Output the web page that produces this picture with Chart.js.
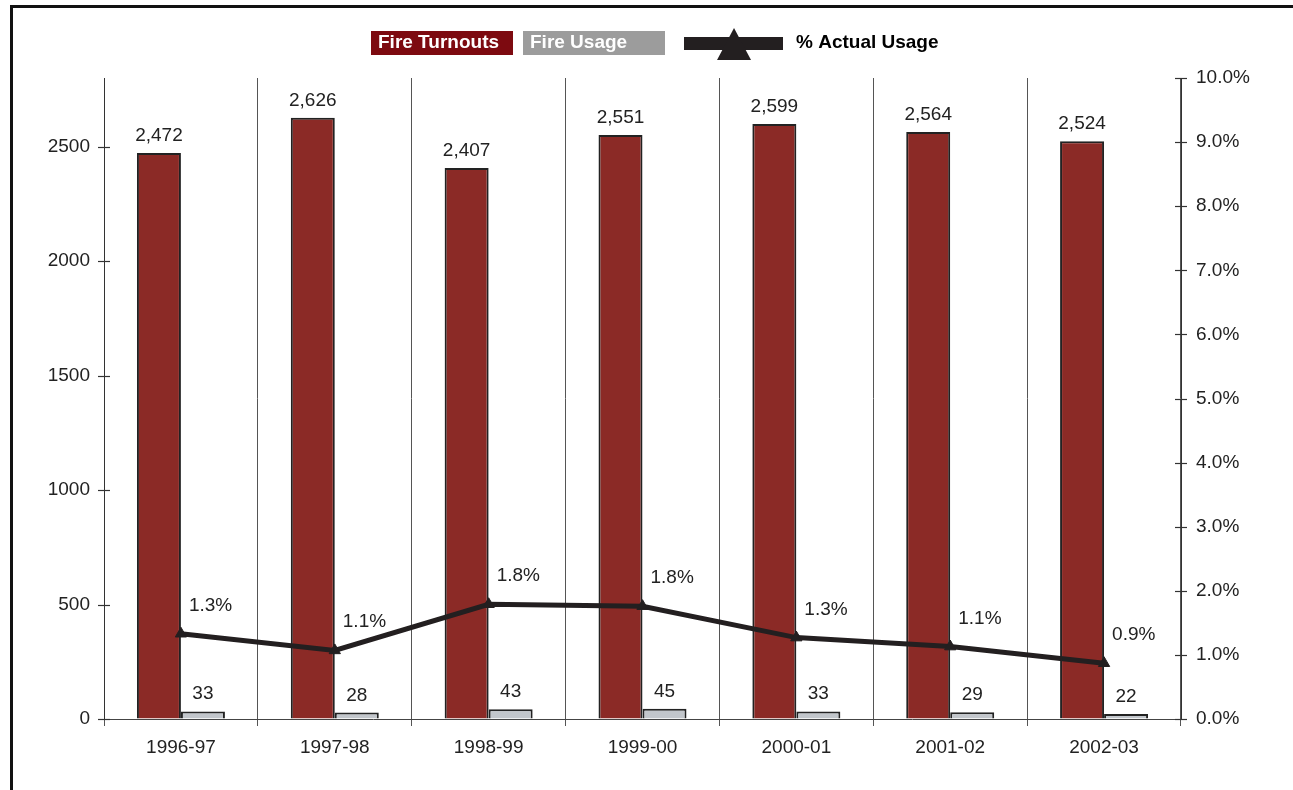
<!DOCTYPE html>
<html>
<head>
<meta charset="utf-8">
<title>Fire Turnouts and Usage</title>
<script src="https://cdn.jsdelivr.net/npm/chart.js@4.4.1/dist/chart.umd.min.js"></script>
<style>
  html, body { margin: 0; padding: 0; background: #fff; }
  canvas { display: block; }
</style>
</head>
<body>
<canvas id="chart" width="1293" height="790"></canvas>
<script>
// Seasons on the category axis
const seasons = ['1996-97', '1997-98', '1998-99', '1999-00', '2000-01', '2001-02', '2002-03'];
// Fire turnouts issued per season
const fireTurnouts = [2472, 2626, 2407, 2551, 2599, 2564, 2524];
// Fire turnouts actually used per season
const fireUsage = [33, 28, 43, 45, 33, 29, 22];
// Share of turnouts actually used (%)
const actualUsagePct = [1.33, 1.07, 1.79, 1.76, 1.27, 1.13, 0.87];
// Tick values for the two value axes
const countTicks = [0, 500, 1000, 1500, 2000, 2500];
const pctTicks = [0, 1, 2, 3, 4, 5, 6, 7, 8, 9, 10];

const FONT = "'Liberation Sans', Arial, Helvetica, sans-serif";
const TEXT = '#222';

// Outer frame (left and top rules)
const framePlugin = {
  id: 'frame',
  beforeDraw(chart) {
    const ctx = chart.ctx;
    ctx.save();
    ctx.fillStyle = '#111';
    ctx.fillRect(10, 5, 3, chart.height - 5);
    ctx.fillRect(10, 5, chart.width - 10, 3);
    ctx.restore();
  }
};

// Small tick marks that cross each value axis
const crossTicksPlugin = {
  id: 'crossTicks',
  afterDraw(chart) {
    const ctx = chart.ctx;
    ctx.save();
    ctx.strokeStyle = '#333';
    ctx.lineWidth = 1.2;
    [['y', 'right'], ['y1', 'left']].forEach(([id, side]) => {
      const s = chart.scales[id];
      const ax = s[side];
      s.ticks.forEach(t => {
        const p = Math.round(s.getPixelForValue(t.value)) + 0.5;
        ctx.beginPath();
        ctx.moveTo(ax - 6, p);
        ctx.lineTo(ax + 6, p);
        ctx.stroke();
      });
    });
    ctx.restore();
  }
};

// Value labels over bars and beside line points
const valueLabelsPlugin = {
  id: 'valueLabels',
  afterDatasetsDraw(chart) {
    const ctx = chart.ctx;
    ctx.save();
    ctx.font = '19px ' + FONT;
    ctx.fillStyle = TEXT;
    ctx.textBaseline = 'alphabetic';
    [0, 1].forEach(di => {
      const meta = chart.getDatasetMeta(di);
      const data = chart.data.datasets[di].data;
      ctx.textAlign = 'center';
      meta.data.forEach((el, i) => {
        ctx.fillText(data[i].toLocaleString('en-US'), el.x, el.y - 12);
      });
    });
    const lineMeta = chart.getDatasetMeta(2);
    const lineData = chart.data.datasets[2].data;
    ctx.textAlign = 'left';
    lineMeta.data.forEach((el, i) => {
      ctx.fillText(lineData[i].toFixed(1) + '%', el.x + 8, el.y - 23);
    });
    ctx.restore();
  }
};

// Legend row across the top
const legendPlugin = {
  id: 'topLegend',
  afterDraw(chart) {
    const ctx = chart.ctx;
    ctx.save();
    ctx.font = 'bold 19px ' + FONT;
    ctx.textBaseline = 'middle';
    ctx.textAlign = 'left';

    ctx.fillStyle = '#7D0A10';
    ctx.fillRect(371, 31, 142, 24);
    ctx.fillStyle = '#fff';
    ctx.fillText(chart.data.datasets[0].label, 378, 43);

    ctx.fillStyle = '#9C9C9C';
    ctx.fillRect(523, 31, 142, 24);
    ctx.fillStyle = '#fff';
    ctx.fillText(chart.data.datasets[1].label, 530, 43);

    ctx.fillStyle = '#231F20';
    ctx.fillRect(684, 37, 99, 13);
    ctx.beginPath();
    ctx.moveTo(734, 28);
    ctx.lineTo(751, 60);
    ctx.lineTo(717, 60);
    ctx.closePath();
    ctx.fill();

    ctx.fillStyle = '#000';
    ctx.fillText(chart.data.datasets[2].label, 796, 43);
    ctx.restore();
  }
};

new Chart(document.getElementById('chart'), {
  data: {
    labels: seasons,
    datasets: [
      {
        type: 'bar',
        label: 'Fire Turnouts',
        data: fireTurnouts,
        yAxisID: 'y',
        backgroundColor: '#8B2A26',
        borderColor: '#222',
        borderWidth: 2,
        barPercentage: 1,
        categoryPercentage: 0.572,
        order: 2
      },
      {
        type: 'bar',
        label: 'Fire Usage',
        data: fireUsage,
        yAxisID: 'y',
        backgroundColor: '#C2C6CB',
        borderColor: '#222',
        borderWidth: 2,
        barPercentage: 1,
        categoryPercentage: 0.572,
        order: 2
      },
      {
        type: 'line',
        label: '% Actual Usage',
        data: actualUsagePct,
        yAxisID: 'y1',
        borderColor: '#231F20',
        borderWidth: 5,
        tension: 0,
        pointStyle: 'triangle',
        pointRadius: 6.5,
        pointBackgroundColor: '#231F20',
        pointBorderColor: '#231F20',
        pointBorderWidth: 1,
        order: 0
      }
    ]
  },
  options: {
    responsive: false,
    animation: false,
    layout: { padding: { top: 78, left: 0, right: 0, bottom: 0 } },
    plugins: {
      legend: { display: false },
      tooltip: { enabled: false }
    },
    scales: {
      x: {
        type: 'category',
        offset: true,
        grid: { offset: true, color: '#555', lineWidth: 1, tickLength: 7, drawOnChartArea: true },
        border: { display: true, color: '#444', width: 1 },
        ticks: { font: { family: FONT, size: 19 }, color: TEXT, padding: 10, maxRotation: 0 },
        afterFit(s) { s.height = 71; }
      },
      y: {
        position: 'left',
        min: 0,
        max: 2800,
        afterBuildTicks(s) { s.ticks = countTicks.map(v => ({ value: v })); },
        grid: { drawOnChartArea: false, drawTicks: false },
        border: { display: true, color: '#333', width: 1 },
        ticks: {
          font: { family: FONT, size: 19 },
          color: TEXT,
          padding: 14,
          callback: v => String(v)
        },
        afterFit(s) { s.width = 104; }
      },
      y1: {
        position: 'right',
        min: 0,
        max: 10,
        afterBuildTicks(s) { s.ticks = pctTicks.map(v => ({ value: v })); },
        grid: { drawOnChartArea: false, drawTicks: false },
        border: { display: true, color: '#333', width: 1 },
        ticks: {
          font: { family: FONT, size: 19 },
          color: TEXT,
          padding: 15,
          callback: v => Number(v).toFixed(1) + '%'
        },
        afterFit(s) { s.width = 112; }
      }
    }
  },
  plugins: [framePlugin, crossTicksPlugin, valueLabelsPlugin, legendPlugin]
});
</script>
</body>
</html>
